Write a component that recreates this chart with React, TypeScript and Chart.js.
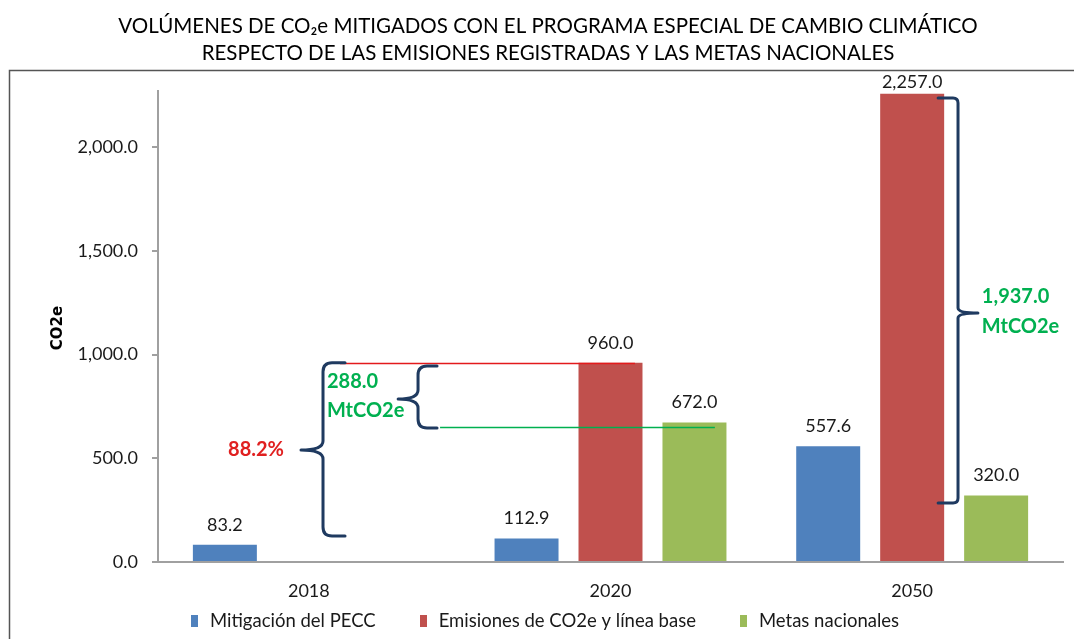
import React, { useEffect, useRef } from "react";
import { Chart, registerables } from "chart.js";

Chart.register(...registerables);

// ---------- data ----------
const categories = ["2018", "2020", "2050"];
const seriesNames = ["Mitigación del PECC", "Emisiones de CO2e y línea base", "Metas nacionales"];
const mitigation: (number | null)[] = [83.2, 112.9, 557.6];
const emissions: (number | null)[] = [null, 960.0, 2257.0];
const goals: (number | null)[] = [null, 672.0, 320.0];
const seriesColors = ["#4F81BD", "#C0504D", "#9BBB59"];
const yTicks = [0, 500, 1000, 1500, 2000];
const yMax = 2270;
const yAxisTitle = "CO2e";
const titleLines = [
  "VOLÚMENES DE CO₂e MITIGADOS CON EL PROGRAMA ESPECIAL DE CAMBIO CLIMÁTICO",
  "RESPECTO DE LAS EMISIONES REGISTRADAS Y LAS METAS NACIONALES",
];

// annotation values (x in category index units, y in data units)
const refLines = [
  { y: 960, x0: 0.103, x1: 1.081, color: "#E31A1C" },
  { y: 653, x0: 0.435, x1: 1.346, color: "#00B050" },
];
const braces = [
  { spine: 0.047, tip: -0.026, hook: 0.12, top: 960, bottom: 125, mid: 540, r: 9 },
  { spine: 0.362, tip: 0.296, hook: 0.425, top: 945, bottom: 646, mid: 786, r: 9 },
  { spine: 2.152, tip: 2.218, hook: 2.086, top: 2236, bottom: 284, mid: 1200, r: 5 },
];
const noteTexts = [
  { text: "88.2%", x: -0.175, y: 540, color: "#E02020", align: "center" as CanvasTextAlign },
  { text: "288.0", x: 0.06, y: 872, color: "#00B050", align: "left" as CanvasTextAlign },
  { text: "MtCO2e", x: 0.06, y: 728, color: "#00B050", align: "left" as CanvasTextAlign },
  { text: "1,937.0", x: 2.231, y: 1277, color: "#00B050", align: "left" as CanvasTextAlign },
  { text: "MtCO2e", x: 2.231, y: 1133, color: "#00B050", align: "left" as CanvasTextAlign },
];

const FONT = "Lato, 'Open Sans', sans-serif";
const fmt = (v: number) =>
  v.toLocaleString("en-US", { minimumFractionDigits: 1, maximumFractionDigits: 1 });

const decorPlugin = {
  id: "decor",
  beforeDraw(chart: any) {
    const ctx = chart.ctx as CanvasRenderingContext2D;
    ctx.save();
    ctx.fillStyle = "#ffffff";
    ctx.fillRect(0, 0, chart.width, chart.height);
    // frame
    ctx.strokeStyle = "#555555";
    ctx.lineWidth = 1.5;
    ctx.strokeRect(9.5, 70.5, 1080, 600);
    // title
    ctx.fillStyle = "#000000";
    ctx.font = `20.5px ${FONT}`;
    ctx.textAlign = "center";
    ctx.textBaseline = "middle";
    ctx.fillText(titleLines[0], 548, 26);
    ctx.fillText(titleLines[1], 548, 53);
    ctx.restore();
  },
  afterDraw(chart: any) {
    const ctx = chart.ctx as CanvasRenderingContext2D;
    const xs = chart.scales.x;
    const ys = chart.scales.y;
    ctx.save();

    // y axis title
    ctx.save();
    ctx.translate(58, 328);
    ctx.rotate(-Math.PI / 2);
    ctx.font = `bold 15px 'DejaVu Sans', sans-serif`;
    ctx.fillStyle = "#000";
    ctx.textAlign = "center";
    ctx.textBaseline = "middle";
    ctx.fillText(yAxisTitle, 0, 0);
    ctx.restore();

    // data labels
    ctx.font = `18px ${FONT}`;
    ctx.fillStyle = "#1a1a1a";
    ctx.textAlign = "center";
    ctx.textBaseline = "middle";
    chart.data.datasets.forEach((ds: any, di: number) => {
      const meta = chart.getDatasetMeta(di);
      meta.data.forEach((el: any, i: number) => {
        const v = ds.data[i];
        if (v === null || v === undefined) return;
        const y = Math.max(el.y - 20, 82);
        ctx.fillText(fmt(v), el.x, y);
      });
    });

    // reference lines
    refLines.forEach((l) => {
      const y = Math.round(ys.getPixelForValue(l.y)) + 0.5;
      ctx.strokeStyle = l.color;
      ctx.lineWidth = 1.5;
      ctx.beginPath();
      ctx.moveTo(xs.getPixelForValue(l.x0), y);
      ctx.lineTo(xs.getPixelForValue(l.x1), y);
      ctx.stroke();
    });

    // braces
    ctx.strokeStyle = "#1F3A60";
    ctx.lineWidth = 3;
    ctx.lineJoin = "round";
    ctx.lineCap = "round";
    braces.forEach((b) => {
      const sx = xs.getPixelForValue(b.spine);
      const tx = xs.getPixelForValue(b.tip);
      const hx = xs.getPixelForValue(b.hook);
      const top = ys.getPixelForValue(b.top);
      const bot = ys.getPixelForValue(b.bottom);
      const mid = ys.getPixelForValue(b.mid);
      const dir = hx > sx ? 1 : -1;
      const r = b.r;
      ctx.beginPath();
      ctx.moveTo(hx, top);
      ctx.lineTo(sx + dir * r, top);
      ctx.quadraticCurveTo(sx, top, sx, top + r);
      ctx.lineTo(sx, mid - r);
      ctx.quadraticCurveTo(sx, mid, tx, mid);
      ctx.moveTo(tx, mid);
      ctx.quadraticCurveTo(sx, mid, sx, mid + r);
      ctx.lineTo(sx, bot - r);
      ctx.quadraticCurveTo(sx, bot, sx + dir * r, bot);
      ctx.lineTo(hx, bot);
      ctx.stroke();
    });

    // note texts
    ctx.font = `bold 20px ${FONT}`;
    ctx.textBaseline = "middle";
    noteTexts.forEach((t) => {
      ctx.fillStyle = t.color;
      ctx.textAlign = t.align;
      ctx.fillText(t.text, xs.getPixelForValue(t.x), ys.getPixelForValue(t.y));
    });

    // legend
    ctx.font = `18.5px ${FONT}`;
    ctx.textAlign = "left";
    ctx.textBaseline = "middle";
    const boxW = 7;
    const boxH = 12;
    const boxGap = 12;
    const itemGap = 44;
    const widths = seriesNames.map((n) => ctx.measureText(n).width);
    const total =
      widths.reduce((a, w) => a + boxW + boxGap + w, 0) + itemGap * (seriesNames.length - 1);
    let x = 545 - total / 2;
    const ly = 621;
    seriesNames.forEach((n, i) => {
      ctx.fillStyle = seriesColors[i];
      ctx.fillRect(Math.round(x), ly - boxH / 2, boxW, boxH);
      ctx.fillStyle = "#1a1a1a";
      ctx.fillText(n, x + boxW + boxGap, ly);
      x += boxW + boxGap + widths[i] + itemGap;
    });

    ctx.restore();
  },
};

export default function App() {
  const canvasRef = useRef<HTMLCanvasElement | null>(null);

  useEffect(() => {
    document.body.style.margin = "0";
    const canvas = canvasRef.current;
    if (!canvas) return;
    const chart = new Chart(canvas, {
      type: "bar",
      data: {
        labels: categories,
        datasets: [
          { label: seriesNames[0], data: mitigation, backgroundColor: seriesColors[0] },
          { label: seriesNames[1], data: emissions, backgroundColor: seriesColors[1] },
          { label: seriesNames[2], data: goals, backgroundColor: seriesColors[2] },
        ],
      },
      options: {
        animation: false,
        responsive: false,
        devicePixelRatio: 1,
        datasets: { bar: { categoryPercentage: 0.835, barPercentage: 0.762 } },
        layout: { padding: { top: 91, left: 0, right: 11, bottom: 0 } },
        plugins: {
          legend: { display: false },
          title: { display: false },
          tooltip: { enabled: false },
        },
        scales: {
          x: {
            grid: { display: false, drawTicks: false },
            border: { display: true, color: "#a0a0a0", width: 2 },
            ticks: { font: { family: FONT, size: 18 }, color: "#1a1a1a", padding: 18 },
            afterFit: (s: any) => {
              s.height = 77;
            },
          },
          y: {
            min: 0,
            max: yMax,
            afterBuildTicks: (s: any) => {
              s.ticks = yTicks.map((v) => ({ value: v }));
            },
            grid: { drawOnChartArea: false, drawTicks: true, tickLength: 6, color: "#a0a0a0", lineWidth: 2 },
            border: { display: true, color: "#a0a0a0", width: 2 },
            ticks: {
              font: { family: FONT, size: 18 },
              color: "#1a1a1a",
              padding: 14,
              callback: (v: any) => fmt(Number(v)),
            },
            afterFit: (s: any) => {
              s.width = 158;
            },
          },
        },
      } as any,
      plugins: [decorPlugin],
    });
    let alive = true;
    if ((document as any).fonts && (document as any).fonts.ready) {
      (document as any).fonts.ready.then(() => {
        if (alive) chart.update();
      });
    }
    return () => {
      alive = false;
      chart.destroy();
    };
  }, []);

  return (
    <div style={{ width: 1074, height: 639, position: "relative" }}>
      <canvas ref={canvasRef} width={1074} height={639} style={{ width: 1074, height: 639, display: "block" }} />
    </div>
  );
}
